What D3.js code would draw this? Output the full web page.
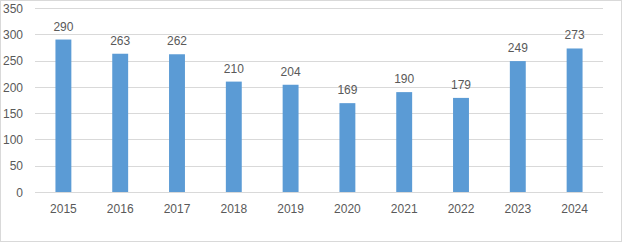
<!DOCTYPE html>
<html lang="en">
<head>
  <meta charset="UTF-8">
  <title>chart</title>
</head>
<body>
<style>
  * {
    padding: 0;
    margin: 0;
  }

  body {
    background: #fff;
  }

  #app {
    width: 625px;
    height: 244px;
  }

  text {
    font-family: "Liberation Sans", Arial, sans-serif;
    font-size: 12px;
    fill: #595959;
  }
</style>

<div id="app"></div>

<script src="https://cdn.jsdelivr.net/npm/d3@7/dist/d3.min.js"></script>
<script>
  let years = ["2015", "2016", "2017", "2018", "2019", "2020", "2021", "2022", "2023", "2024"];
  let values = [290, 263, 262, 210, 204, 169, 190, 179, 249, 273];
  let yTicks = [0, 50, 100, 150, 200, 250, 300, 350];

  let $width = 625, $height = 244;
  let $left = 35, $right = 603, $top = 8, $bottom = 192;

  var svg = d3.select("#app").append("svg").attr("width", $width).attr("height", $height)

  // outer frame
  svg.append("rect").attr("x", 0.5).attr("y", 0.5).attr("width", 621).attr("height", 241)
    .attr("fill", "#fff").attr("stroke", "#d9d9d9")

  var x = d3.scaleBand().domain(years).range([$left, $right]).paddingInner(0.72).paddingOuter(0.36)
  var y = d3.scaleLinear().domain([0, 350]).range([$bottom, $top])

  // gridlines
  svg.append("g").selectAll("line").data(yTicks).enter().append("line")
    .attr("x1", $left).attr("x2", $right)
    .attr("y1", d => Math.round(y(d)) + 0.5).attr("y2", d => Math.round(y(d)) + 0.5)
    .attr("stroke", "#d9d9d9").attr("stroke-width", 1)

  // y axis labels
  var yAxis = d3.axisLeft(y).tickValues(yTicks).tickSize(0).tickPadding(0)
  svg.append("g").attr("transform", "translate(23,0)").call(yAxis)
    .call(g => g.select(".domain").remove())
    .selectAll("text").attr("dy", "0.35em")

  // bars
  svg.selectAll("rect.bar").data(values).enter().append("rect").attr("class", "bar")
    .attr("x", (d, i) => x(years[i]))
    .attr("width", x.bandwidth())
    .attr("y", d => y(d))
    .attr("height", d => $bottom - y(d))
    .attr("fill", "#5b9bd5")

  // x axis
  var xAxis = d3.axisBottom(x).tickSize(0).tickPadding(12)
  svg.append("g").attr("transform", "translate(0," + $bottom + ")").call(xAxis)
    .call(g => g.select(".domain").remove())

  // data labels
  svg.selectAll("text.val").data(values).enter().append("text").attr("class", "val")
    .text(d => d)
    .attr("x", (d, i) => x(years[i]) + x.bandwidth() / 2)
    .attr("y", d => y(d) - 9)
    .attr("text-anchor", "middle")
</script>
</body>
</html>
